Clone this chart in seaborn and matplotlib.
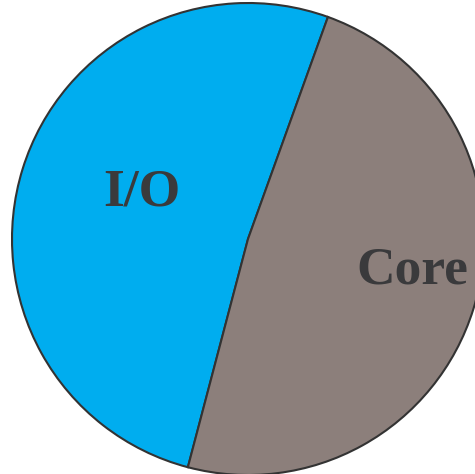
import numpy as np
import pandas as pd

import matplotlib
matplotlib.use("Agg")
import matplotlib.pyplot as plt
import seaborn as sns

# ============================================================
# DATA
# ============================================================
labels = ["I/O", "Core"]
shares = [51.4, 48.6]          # percent of the pie
colors = ["#00adef", "#8c7f7b"]

# ============================================================
# PLOT
# ============================================================
sns.set_theme(style="white")
plt.rcParams["font.family"] = ["Liberation Serif", "DejaVu Serif"]

fig = plt.figure(figsize=(4.75, 4.74), dpi=100)
ax = fig.add_axes([0, 0, 1, 1])

# pie in pixel-like data units so it can spill over the right/bottom edge
R = 236
cx, cy = 248, 474 - 239
wedges, _ = ax.pie(
    shares,
    colors=colors,
    radius=R,
    center=(cx, cy),
    startangle=90 - 19.8,
    counterclock=True,
    wedgeprops=dict(edgecolor="#333333", linewidth=1.5),
    frame=True,
)

ax.text(142, 474 - 192, labels[0], ha="center", va="center",
        fontsize=38.5, fontweight="bold", color="#3a3a3c")
ax.text(412, 474 - 270, labels[1], ha="center", va="center",
        fontsize=38.5, fontweight="bold", color="#3a3a3c")

ax.set_xlim(0, 475)
ax.set_ylim(0, 474)
ax.set_aspect("equal")
ax.axis("off")

plt.savefig("out.png", dpi=100)
plt.close()
